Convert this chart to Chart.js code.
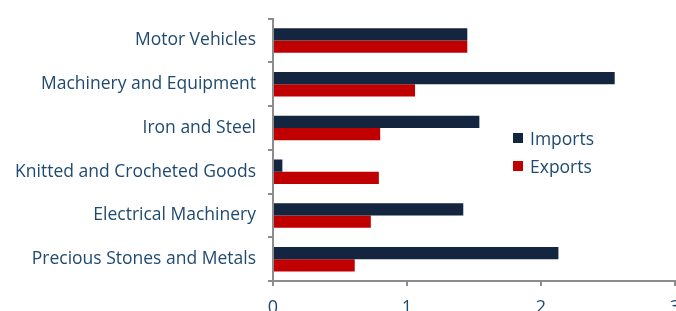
<!DOCTYPE html>
<html lang="en">
<head>
    <meta charset="UTF-8">
    <title>Imports and Exports</title>
    <script src="https://cdn.jsdelivr.net/npm/chart.js"></script>
    <style>
        html, body { margin: 0; padding: 0; background: #fff; overflow: hidden; }
        #wrap { position: relative; width: 700px; height: 340px; margin-top: -4px; }
        #legenda { position: absolute; left: 513px; top: 128px; font-family: "Open Sans", sans-serif; font-size: 17.5px; color: #1F4A70; }
        .item { display: flex; align-items: center; height: 28px; }
        .caixa { width: 10px; height: 10px; margin-right: 7px; }
    </style>
</head>
<body>
    <div id="wrap">
        <canvas id="grafico" width="700" height="340"></canvas>
        <div id="legenda"></div>
    </div>

<script>
    const categorias = ["Motor Vehicles", "Machinery and Equipment", "Iron and Steel",
        "Knitted and Crocheted Goods", "Electrical Machinery", "Precious Stones and Metals"];
    const importacoes = [1.45, 2.55, 1.54, 0.07, 1.42, 2.13];
    const exportacoes = [1.45, 1.06, 0.80, 0.79, 0.73, 0.61];
    const ticksX = [0, 1, 2, 3];

    const corTexto = '#1F4A70';
    const corEixo = '#8C8C8C';

    const dados = {
        labels: categorias,
        datasets: [{
            label: 'Imports',
            data: importacoes,
            backgroundColor: '#13253F'
        },
        {
            label: 'Exports',
            data: exportacoes,
            backgroundColor: '#C00000'
        }]
    };

    const config = {
        type: 'bar',
        data: dados,
        options: {
            indexAxis: 'y',
            responsive: false,
            animation: false,
            layout: { padding: { top: 8, right: 25, left: 0, bottom: 0 } },
            datasets: {
                bar: { categoryPercentage: 0.56, barPercentage: 1.0 }
            },
            plugins: {
                legend: { display: false },
                tooltip: { enabled: false }
            },
            scales: {
                x: {
                    min: 0,
                    max: 3,
                    afterBuildTicks: function (scale) {
                        scale.ticks = ticksX.map(v => ({ value: v }));
                    },
                    afterFit: function (scale) {
                        scale.height = 340 - 285;
                    },
                    border: { color: corEixo, width: 2 },
                    grid: { drawOnChartArea: false, color: corEixo, lineWidth: 2, tickLength: 5 },
                    ticks: { color: corTexto, padding: 11, font: { family: 'Open Sans', size: 18 } }
                },
                y: {
                    afterFit: function (scale) {
                        scale.width = 273;
                    },
                    border: { color: corEixo, width: 2 },
                    grid: { drawOnChartArea: false, offset: true, color: corEixo, lineWidth: 2, tickLength: 5 },
                    ticks: { color: corTexto, padding: 12, font: { family: 'Open Sans', size: 17.5 } }
                }
            }
        }
    };

    let meuGrafico = new Chart(document.getElementById('grafico'), config);

    // legenda dentro da área do gráfico
    document.getElementById('legenda').innerHTML = dados.datasets.map(d =>
        `<div class="item"><span class="caixa" style="background:${d.backgroundColor}"></span>${d.label}</div>`
    ).join('');
</script>
</body>
</html>
